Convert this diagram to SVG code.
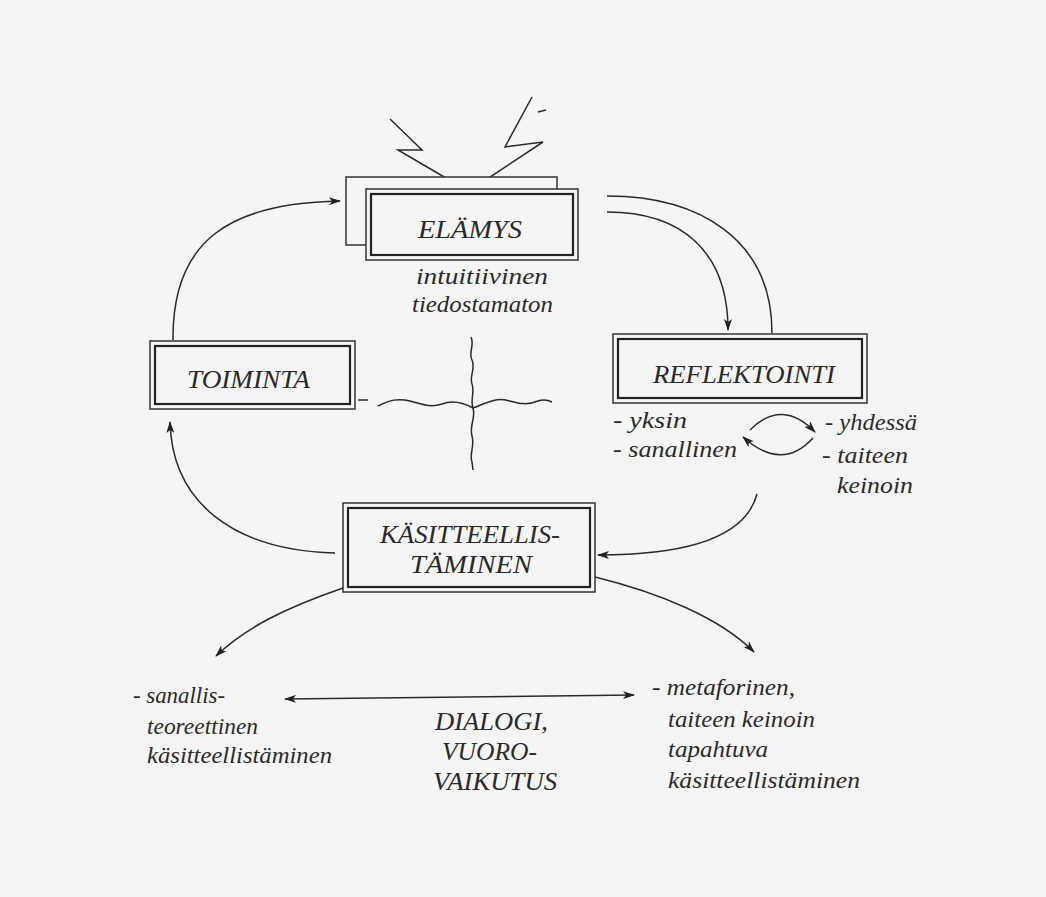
<svg xmlns="http://www.w3.org/2000/svg" width="1046" height="897" viewBox="0 0 1046 897">
<defs>
<style>
.t{font-family:"Liberation Serif","DejaVu Serif",serif;font-style:italic;fill:#2a2a2a}
.cap{font-size:26px}
.low{font-size:24px}
.ob{fill:#f5f5f5;stroke:#333;stroke-width:1.5}
.ib{fill:none;stroke:#222;stroke-width:2.2}
.ln{fill:none;stroke:#2a2a2a;stroke-width:1.5}
</style>
<marker id="ah" viewBox="0 0 12 8" refX="11" refY="4" markerWidth="12" markerHeight="8" markerUnits="userSpaceOnUse" orient="auto-start-reverse">
<path d="M0,0 L12,4 L0,8 L3,4 Z" fill="#222"/>
</marker>
</defs>
<rect x="0" y="0" width="1046" height="897" fill="#f5f5f5"/>

<g id="lightning">
<polyline class="ln" points="390,119 422,150 398,150 463,188"/>
<polyline class="ln" points="532,97 505,147 543,142 475,187"/>
<line class="ln" x1="538" y1="112" x2="546" y2="110"/>
</g>

<g id="elamys">
<rect class="ob" x="346" y="177" width="211" height="68"/>
<rect class="ob" x="366" y="189" width="212" height="71"/>
<rect class="ib" x="371" y="194" width="202" height="61"/>
<text class="t cap" x="418" y="238" textLength="104" lengthAdjust="spacingAndGlyphs">ELÄMYS</text>
<text class="t low" x="416" y="284" textLength="132" lengthAdjust="spacingAndGlyphs">intuitiivinen</text>
<text class="t low" x="412" y="312" textLength="141" lengthAdjust="spacingAndGlyphs">tiedostamaton</text>
</g>

<g id="toiminta">
<rect class="ob" x="150" y="341" width="205" height="68"/>
<rect class="ib" x="155" y="346" width="195" height="58"/>
<text class="t cap" x="187" y="388" textLength="123" lengthAdjust="spacingAndGlyphs">TOIMINTA</text>
</g>

<g id="reflektointi">
<rect class="ob" x="613" y="334" width="254" height="69"/>
<rect class="ib" x="618" y="339" width="244" height="59"/>
<text class="t cap" x="653" y="383" textLength="182" lengthAdjust="spacingAndGlyphs">REFLEKTOINTI</text>
<text class="t low" x="613" y="428" textLength="74" lengthAdjust="spacingAndGlyphs">- yksin</text>
<text class="t low" x="613" y="457" textLength="124" lengthAdjust="spacingAndGlyphs">- sanallinen</text>
<text class="t low" x="825" y="430" textLength="92" lengthAdjust="spacingAndGlyphs">- yhdessä</text>
<text class="t low" x="822" y="463" textLength="86" lengthAdjust="spacingAndGlyphs">- taiteen</text>
<text class="t low" x="837" y="493" textLength="76" lengthAdjust="spacingAndGlyphs">keinoin</text>
</g>

<g id="kasitteellistaminen">
<rect class="ob" x="343" y="503" width="252" height="89"/>
<rect class="ib" x="348" y="508" width="242" height="79"/>
<text class="t cap" x="380" y="543" textLength="180" lengthAdjust="spacingAndGlyphs">KÄSITTEELLIS-</text>
<text class="t cap" x="410" y="573" textLength="122" lengthAdjust="spacingAndGlyphs">TÄMINEN</text>
</g>

<g id="sanallis">
<text class="t low" x="133" y="703" textLength="92" lengthAdjust="spacingAndGlyphs">- sanallis-</text>
<text class="t low" x="147" y="734" textLength="111" lengthAdjust="spacingAndGlyphs">teoreettinen</text>
<text class="t low" x="147" y="763" textLength="185" lengthAdjust="spacingAndGlyphs">käsitteellistäminen</text>
</g>

<g id="dialogi">
<text class="t cap" x="435" y="730" textLength="113" lengthAdjust="spacingAndGlyphs">DIALOGI,</text>
<text class="t cap" x="442" y="760" textLength="95" lengthAdjust="spacingAndGlyphs">VUORO-</text>
<text class="t cap" x="433" y="790" textLength="124" lengthAdjust="spacingAndGlyphs">VAIKUTUS</text>
</g>

<g id="metaforinen">
<text class="t low" x="652" y="695" textLength="143" lengthAdjust="spacingAndGlyphs">- metaforinen,</text>
<text class="t low" x="668" y="727" textLength="147" lengthAdjust="spacingAndGlyphs">taiteen keinoin</text>
<text class="t low" x="668" y="757" textLength="100" lengthAdjust="spacingAndGlyphs">tapahtuva</text>
<text class="t low" x="668" y="788" textLength="192" lengthAdjust="spacingAndGlyphs">käsitteellistäminen</text>
</g>

<g id="cross">
<line class="ln" x1="358" y1="400" x2="368" y2="400"/>
<path class="ln" d="M378,406 C390,400 398,398 410,401 C422,404 430,408 442,404 C452,400 462,402 473,408 C484,404 494,398 506,400 C518,403 526,406 538,401 C544,399 548,400 552,402"/>
<path class="ln" d="M471,337 C475,345 468,352 472,360 C476,368 469,376 472,384 C475,392 470,400 473,408 C476,418 469,426 472,436 C475,446 469,454 472,462 L473,470"/>
</g>

<g id="connectors">
<path class="ln" d="M173,340 C172,240 230,203 340,201" marker-end="url(#ah)"/>
<path class="ln" d="M607,212 C680,212 728,250 728,330" marker-end="url(#ah)"/>
<path class="ln" d="M607,196 C700,196 772,240 772,333"/>
<path class="ln" d="M757,494 C745,540 680,555 598,555" marker-end="url(#ah)"/>
<path class="ln" d="M335,553 C230,550 172,500 170,422" marker-end="url(#ah)"/>
<path class="ln" d="M343,588 C285,608 245,628 216,656" marker-end="url(#ah)"/>
<path class="ln" d="M595,577 C660,593 720,618 754,652" marker-end="url(#ah)"/>
<path class="ln" d="M285,699 L634,695" marker-start="url(#ah)" marker-end="url(#ah)"/>
<path class="ln" d="M750,430 Q782,398 815,432" marker-end="url(#ah)"/>
<path class="ln" d="M813,438 Q782,472 743,437" marker-end="url(#ah)"/>
</g>
</svg>
